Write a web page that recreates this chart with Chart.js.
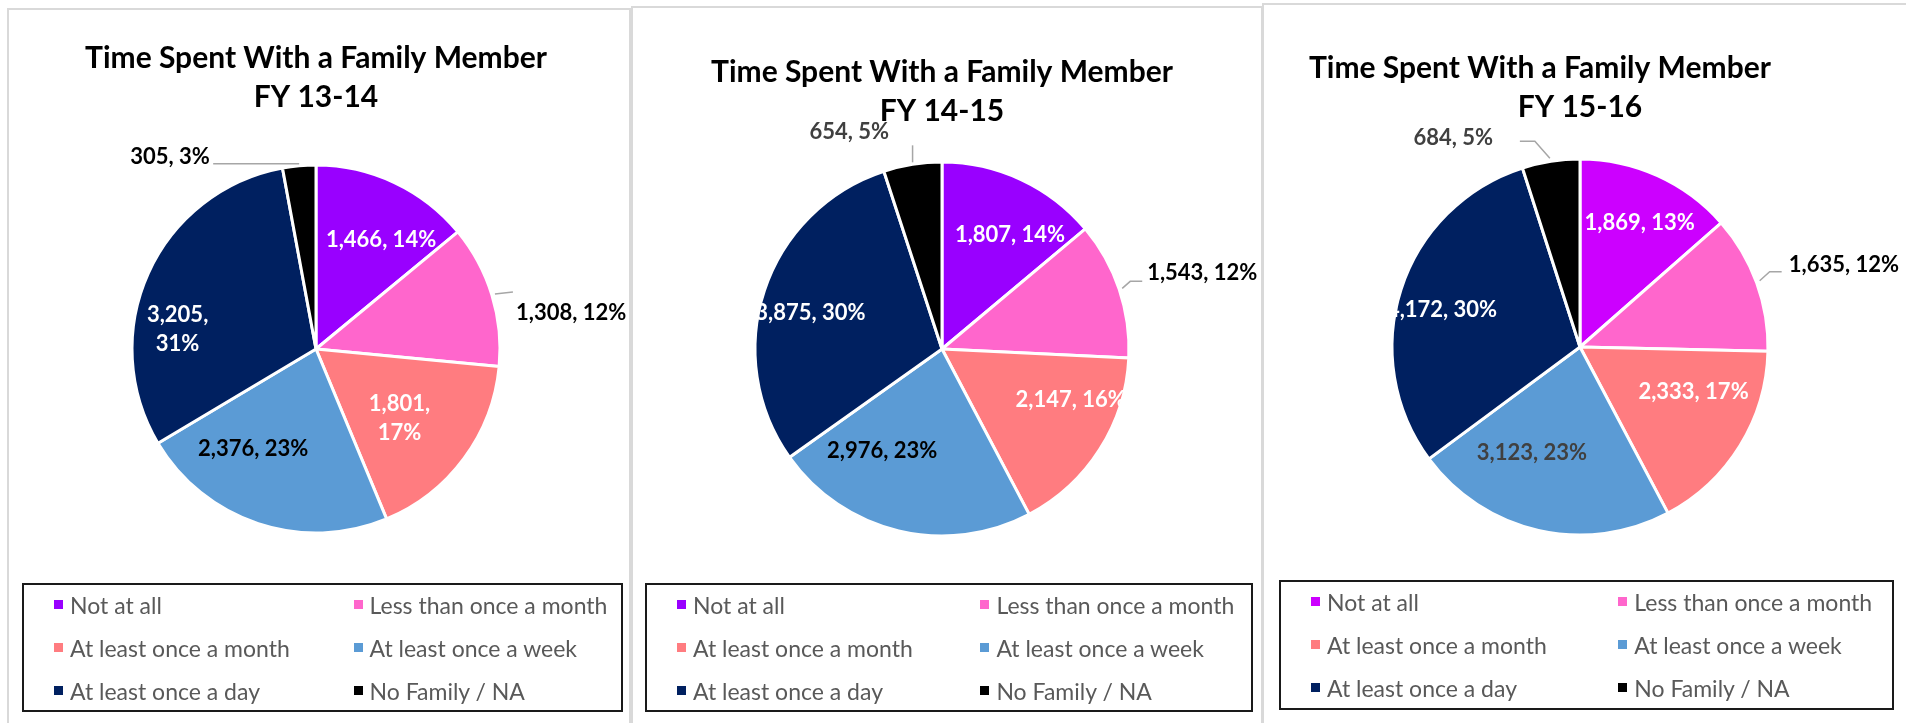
<!DOCTYPE html>
<html>
<head>
<meta charset="utf-8">
<script src="https://cdn.jsdelivr.net/npm/chart.js@4.4.1/dist/chart.umd.min.js"></script>
<style>
  body { margin: 0; background: #fff; width: 1906px; height: 723px; overflow: hidden; position: relative; font-family: Lato, sans-serif; }
  .panel { position: absolute; border: 2px solid #d9d9d9; box-sizing: border-box; height: 760px; }
  canvas { position: absolute; }
  .legend { position: absolute; border: 2px solid #1a1a1a; box-sizing: border-box; }
  .rows { position: absolute; left: 0; right: 0; top: -2px; display: grid; grid-template-columns: 55.2% 44.8%; grid-auto-rows: 43px; }
  .item { display: flex; align-items: center; font-size: 23px; color: #595959; white-space: nowrap; }
  .item.c1 { padding-left: 30px; }
  .item i { display: inline-block; width: 9px; height: 9px; margin-right: 7px; }
</style>
</head>
<body>
<script>
// data
const categories = ["Not at all", "Less than once a month", "At least once a month",
                    "At least once a week", "At least once a day", "No Family / NA"];
const titleLine = "Time Spent With a Family Member";
const years = ["FY 13-14", "FY 14-15", "FY 15-16"];

const counts1314 = [1466, 1308, 1801, 2376, 3205, 305];
const pct1314    = [14, 12, 17, 23, 31, 3];
const counts1415 = [1807, 1543, 2147, 2976, 3875, 654];
const pct1415    = [14, 12, 16, 23, 30, 5];
const counts1516 = [1869, 1635, 2333, 3123, 4172, 684];
const pct1516    = [13, 12, 17, 23, 30, 5];

const colors   = ['#9900FF', '#FF66CC', '#FF7C80', '#5B9BD5', '#002060', '#000000'];
const colors16 = ['#CC00FF', '#FF66CC', '#FF7C80', '#5B9BD5', '#002060', '#000000'];

// label placement: [angle shift from slice middle (deg), fraction of radius]
const panels = [
  {
    box: [7, 8, 624], legend: [22, 583, 601, 129],
    cx: 316, cy: 349, r: 184, t1: 58, titlePad: '',
    year: years[0], counts: counts1314, pct: pct1314, colors: colors,
    labelColors: ['#fff', '#000', '#fff', '#000', '#fff', '#000'],
    wrap: [false, false, true, false, true, false],
    place: [[5.6, 0.69], [9.1, 1.40], [3.3, 0.59], [13.9, 0.64], [-16.1, 0.76], [-32, 1.31]],
    leaders: [null, [[3, -1], [21, -3]], null, null, null, [[0, -2], [-86, -2]]]
  },
  {
    box: [631, 6, 632], legend: [645, 583, 608, 129],
    cx: 942, cy: 349, r: 187, t1: 72, titlePad: '',
    year: years[1], counts: counts1415, pct: pct1415, colors: colors,
    labelColors: ['#fff', '#000', '#fff', '#000', '#fff', '#404040'],
    wrap: [false, false, false, false, false, false],
    place: [[5.8, 0.71], [2.3, 1.45], [-10.8, 0.74], [17.1, 0.63], [-2.9, 0.73], [-14.1, 1.26]],
    leaders: [null, [[3, -1], [11, -8], [23, -8]], null, null, null, [[0, -2], [0, -19]]]
  },
  {
    box: [1262, 3, 660], legend: [1279, 580, 615, 130],
    cx: 1580, cy: 347, r: 188, t1: 68, titlePad: '           ',
    year: years[2], counts: counts1516, pct: pct1516, colors: colors16,
    labelColors: ['#fff', '#000', '#fff', '#404040', '#fff', '#404040'],
    wrap: [false, false, false, false, false, false],
    place: [[1.4, 0.73], [2.7, 1.47], [-10, 0.65], [11.6, 0.62], [-2.8, 0.76], [-22.3, 1.30]],
    leaders: [null, [[3, -2], [13, -11], [25, -11]], null, null, null, [[-1, -3], [-16, -20], [-31, -20]]]
  }
];

const sliceLabels = {
  id: 'sliceLabels',
  afterDatasetsDraw(chart, args, o) {
    const ctx = chart.ctx;
    const meta = chart.getDatasetMeta(0);
    ctx.save();
    ctx.font = 'bold 22px Lato';
    ctx.textAlign = 'center';
    ctx.textBaseline = 'middle';
    meta.data.forEach((arc, i) => {
      const p = arc.getProps(['x', 'y', 'startAngle', 'endAngle', 'outerRadius'], true);
      const mid = (p.startAngle + p.endAngle) / 2;
      const ex = p.x + Math.cos(mid) * p.outerRadius;
      const ey = p.y + Math.sin(mid) * p.outerRadius;
      const lead = o.leaders[i];
      if (lead) {
        ctx.strokeStyle = '#a6a6a6';
        ctx.lineWidth = 1.5;
        ctx.beginPath();
        lead.forEach((pt, k) => k ? ctx.lineTo(ex + pt[0], ey + pt[1]) : ctx.moveTo(ex + pt[0], ey + pt[1]));
        ctx.stroke();
      }
      const a = mid + o.place[i][0] * Math.PI / 180;
      const d = o.place[i][1] * p.outerRadius;
      const lx = p.x + Math.cos(a) * d, ly = p.y + Math.sin(a) * d;
      const num = o.counts[i].toLocaleString('en-US');
      const lines = o.wrap[i] ? [num + ',', o.pct[i] + '%'] : [num + ', ' + o.pct[i] + '%'];
      ctx.fillStyle = o.labelColors[i];
      lines.forEach((t, k) => ctx.fillText(t, lx, ly + (k - (lines.length - 1) / 2) * 29));
    });
    ctx.restore();
  }
};

panels.forEach(function (pn) {
  var panel = document.createElement('div');
  panel.className = 'panel';
  panel.style.left = pn.box[0] + 'px';
  panel.style.top = pn.box[1] + 'px';
  panel.style.width = pn.box[2] + 'px';
  document.body.appendChild(panel);

  // canvas geometry, padding worked out so the pie lands on (cx, cy)
  var L = pn.box[0] + 2, T = 10, W = pn.box[2] - 4, H = 610;
  var lineH = 39;
  var padTop = pn.t1 - T - lineH / 2;
  var titleBottom = padTop + 2 * lineH;
  var padB = H - (2 * (pn.cy - T) - titleBottom);
  var ccx = pn.cx - L;
  var padL = Math.max(0, 2 * ccx - W), padR = Math.max(0, W - 2 * ccx);

  var canvas = document.createElement('canvas');
  canvas.width = W; canvas.height = H;
  canvas.style.left = L + 'px'; canvas.style.top = T + 'px';
  document.body.appendChild(canvas);

  new Chart(canvas.getContext('2d'), {
    type: 'pie',
    data: {
      labels: categories,
      datasets: [{
        data: pn.counts,
        backgroundColor: pn.colors,
        borderColor: '#ffffff',
        borderWidth: 3,
        radius: pn.r
      }]
    },
    options: {
      responsive: false,
      animation: false,
      devicePixelRatio: 1,
      layout: { padding: { top: 0, bottom: padB, left: padL, right: padR } },
      plugins: {
        legend: { display: false },
        tooltip: { enabled: false },
        title: {
          display: true,
          text: [titleLine + pn.titlePad, pn.year],
          color: '#000',
          font: { family: 'Lato', size: 30, weight: 'bold', lineHeight: lineH / 30 },
          padding: { top: padTop, bottom: 0 }
        },
        sliceLabels: pn
      }
    },
    plugins: [sliceLabels]
  });

  // legend box, two columns
  var lg = document.createElement('div');
  lg.className = 'legend';
  lg.style.left = pn.legend[0] + 'px';
  lg.style.top = pn.legend[1] + 'px';
  lg.style.width = pn.legend[2] + 'px';
  lg.style.height = pn.legend[3] + 'px';
  var rows = document.createElement('div');
  rows.className = 'rows';
  categories.forEach(function (c, i) {
    var it = document.createElement('div');
    it.className = 'item' + (i % 2 === 0 ? ' c1' : '');
    var sw = document.createElement('i');
    sw.style.background = pn.colors[i];
    it.appendChild(sw);
    it.appendChild(document.createTextNode(c));
    rows.appendChild(it);
  });
  lg.appendChild(rows);
  document.body.appendChild(lg);
});
</script>
</body>
</html>
